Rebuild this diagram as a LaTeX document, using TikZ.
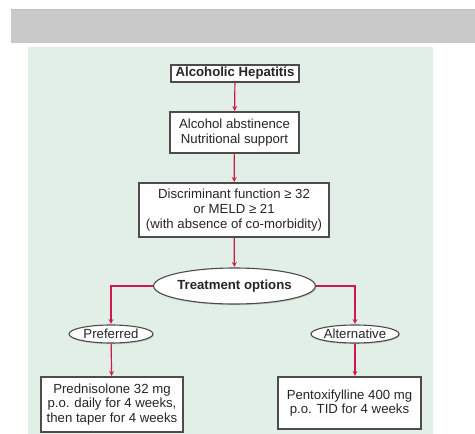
\documentclass[tikz,border=0pt]{standalone}
\usepackage{fontspec}
\setmainfont{Liberation Sans}
\usepackage{xcolor}
\usetikzlibrary{shapes.geometric,shadows}
\tikzset{>=stealth}
\definecolor{panelgreen}{HTML}{E2EFE7}
\definecolor{bargray}{HTML}{C9C9C9}
\definecolor{arrowred}{HTML}{D2164F}
\definecolor{inkgray}{HTML}{262626}
\tikzset{
  stepbox/.style={draw=black!70, fill=white, line width=1.1pt, align=center,
    inner sep=0pt, text=inkgray,
    drop shadow={shadow xshift=1.2pt, shadow yshift=-1.2pt, opacity=0.35}},
  choice/.style={ellipse, draw=black!70, fill=white, line width=1.1pt,
    inner sep=0pt, text=inkgray,
    drop shadow={shadow xshift=0.8pt, shadow yshift=-1.2pt, opacity=0.35}},
  flow/.style={->, arrowred, line width=1.2pt, shorten >=0.5pt}
}

\begin{document}
\begin{tikzpicture}[x=1pt,y=-1pt,font=\fontsize{13.2}{14.8}\selectfont]
    \useasboundingbox (0,0) rectangle (475,434);
    % background
    \fill[bargray] (11,9) rectangle (475,43);
    \draw[black!25] (11,9.4) -- (475,9.4);
    \fill[panelgreen] (28,47) rectangle (433,434);

    % boxes
    \node[stepbox, minimum width=128pt, minimum height=17pt] (hep) at (235,73.5) {\textbf{Alcoholic Hepatitis}};
    \node[stepbox, minimum width=129pt, minimum height=41pt] (abst) at (234.5,132.5) {Alcohol abstinence\\Nutritional support};
    \node[stepbox, minimum width=190pt, minimum height=54pt] (score) at (234,210) {Discriminant function ≥ 32\\or MELD ≥ 21\\(with absence of co-morbidity)};
    \node[choice, minimum width=135pt, minimum height=36pt] (treat) at (234.5,286) {\textbf{Treatment options}};
    \node[choice, minimum width=84pt, minimum height=18pt] (pref) at (111,334) {Preferred};
    \node[choice, minimum width=84pt, minimum height=18pt] (alt) at (355,334) {Alternative};
    \node[stepbox, minimum width=142pt, minimum height=55pt, font=\fontsize{13.2}{14.5}\selectfont] (pred) at (112,404.5) {Prednisolone 32 mg\\p.o. daily for 4 weeks,\\then taper for 4 weeks};
    \node[stepbox, minimum width=143pt, minimum height=52pt, font=\fontsize{13.2}{14.5}\selectfont] (pento) at (349.5,403) {Pentoxifylline 400 mg\\p.o. TID for 4 weeks};

    % arrows
    \draw[flow] (hep) -- (abst);
    \draw[flow] (abst) -- (score);
    \draw[flow] (score) -- (treat);
    \draw[flow] (treat.west) -| (pref.north);
    \draw[flow] (treat.east) -| (alt.north);
    \draw[flow] (pref) -- (pred);
    \draw[flow] (alt.south) -- (alt.south |- pento.north);
\end{tikzpicture}
\end{document}
